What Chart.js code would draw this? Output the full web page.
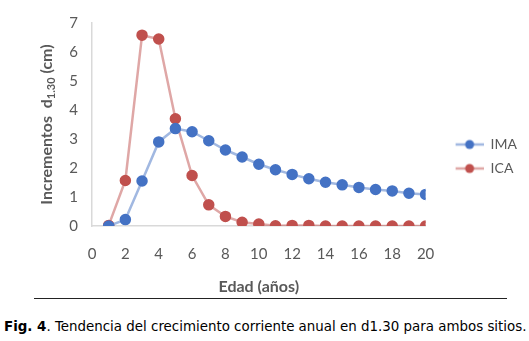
<!DOCTYPE html>
<html>
<head>
<meta charset="utf-8">
<script src="https://cdn.jsdelivr.net/npm/chart.js@4.4.0/dist/chart.umd.min.js"></script>
<style>
  body { margin: 0; background: #fff; width: 529px; height: 341px; overflow: hidden; }
  #wrap { position: absolute; left: 0; top: 0; width: 529px; height: 300px; }
  #rule { position: absolute; left: 34px; top: 298px; width: 473px; height: 1px; background: #222; }
  #caption { position: absolute; left: 4px; top: 319px; font-family: 'DejaVu Sans', Verdana, sans-serif; font-size: 13.4px; color: #000; white-space: nowrap; }
</style>
</head>
<body>
<div id="wrap"><canvas id="grafica"></canvas></div>
<div id="rule"></div>
<div id="caption"><b>Fig. 4</b>. Tendencia del crecimiento corriente anual en d1.30 para ambos sitios.</div>
<script>
const edad = [1, 2, 3, 4, 5, 6, 7, 8, 9, 10, 11, 12, 13, 14, 15, 16, 17, 18, 19, 20];
const ima = [0, 0.22, 1.55, 2.9, 3.36, 3.25, 2.94, 2.62, 2.38, 2.13, 1.94, 1.78, 1.63, 1.51, 1.42, 1.33, 1.26, 1.21, 1.13, 1.09];
const ica = [0.02, 1.57, 6.58, 6.45, 3.7, 1.74, 0.73, 0.33, 0.13, 0.07, 0.01, 0.02, 0.02, 0, 0, 0, 0, 0, 0, 0];
const series = ['IMA', 'ICA'];

const FONT = 'Lato, "Open Sans", sans-serif';
const GREY = '#595959';

const colors = {
    IMA: { line: 'rgba(68,114,196,0.5)', dot: '#4472C4' },
    ICA: { line: 'rgba(192,80,77,0.5)', dot: '#C0504D' }
};

// line + dot marker for the legend (left part kept transparent as spacing)
function legendMarker(line, dot) {
    const c = document.createElement('canvas');
    c.width = 48; c.height = 12;
    const g = c.getContext('2d');
    g.strokeStyle = line; g.lineWidth = 2.5;
    g.beginPath(); g.moveTo(20, 6); g.lineTo(48, 6); g.stroke();
    g.fillStyle = dot;
    g.beginPath(); g.arc(34, 6, 4.5, 0, Math.PI * 2); g.fill();
    return c;
}
const markers = series.map(s => legendMarker(colors[s].line, colors[s].dot));

// rotated y title with subscript
const yTitle = {
    id: 'yTitle',
    afterDraw(chart) {
        const ctx = chart.ctx;
        const a = chart.chartArea;
        const parts = [
            { t: 'Incrementos  d', f: 'bold 16px ' + FONT, dy: 0 },
            { t: '1.30', f: 'bold 11px ' + FONT, dy: 4 },
            { t: ' (cm)', f: 'bold 16px ' + FONT, dy: 0 }
        ];
        ctx.save();
        let total = 0;
        parts.forEach(p => { ctx.font = p.f; p.w = ctx.measureText(p.t).width; total += p.w; });
        ctx.translate(47, (a.top + a.bottom) / 2);
        ctx.rotate(-Math.PI / 2);
        ctx.fillStyle = GREY;
        ctx.textBaseline = 'middle';
        let x = -total / 2;
        parts.forEach(p => { ctx.font = p.f; ctx.fillText(p.t, x, p.dy); x += p.w; });
        ctx.restore();
    }
};

const ctx = document.getElementById('grafica').getContext('2d');
new Chart(ctx, {
    type: 'line',
    data: {
        datasets: [ima, ica].map((vals, i) => ({
            label: series[i],
            data: edad.map((e, j) => ({ x: e, y: vals[j] })),
            borderColor: colors[series[i]].line,
            backgroundColor: colors[series[i]].dot,
            pointBackgroundColor: colors[series[i]].dot,
            pointBorderColor: colors[series[i]].dot,
            pointRadius: 4.5,
            borderWidth: 2.5,
            tension: 0
        }))
    },
    options: {
        responsive: true,
        maintainAspectRatio: false,
        animation: false,
        layout: { padding: { top: 13, right: 2, bottom: 0, left: 0 } },
        plugins: {
            tooltip: { enabled: false },
            legend: {
                position: 'right',
                labels: {
                    usePointStyle: true,
                    pointStyleWidth: 48,
                    font: { family: FONT, size: 14 },
                    color: GREY,
                    padding: 10,
                    generateLabels(chart) {
                        return chart.data.datasets.map((ds, i) => ({
                            text: ds.label,
                            pointStyle: markers[i],
                            fontColor: GREY,
                            lineWidth: 0,
                            hidden: false,
                            datasetIndex: i
                        }));
                    }
                }
            }
        },
        scales: {
            x: {
                type: 'linear',
                min: 0, max: 20,
                ticks: { stepSize: 2, color: GREY, font: { family: FONT, size: 15 }, padding: 19 },
                grid: { display: false, drawTicks: false },
                border: { color: '#d9d9d9', width: 1.5 },
                title: { display: true, text: 'Edad (años)', color: GREY, font: { family: FONT, size: 16, weight: 'bold' }, padding: { top: 10, bottom: 4 } },
                afterFit(s) { s.height = 74; }
            },
            y: {
                min: 0, max: 7,
                ticks: { stepSize: 1, color: GREY, font: { family: FONT, size: 15 }, padding: 14 },
                grid: { display: false, drawTicks: false },
                border: { color: '#d9d9d9', width: 1.5 },
                afterFit(s) { s.width = 92; }
            }
        }
    },
    plugins: [yTitle]
});
</script>
</body>
</html>
